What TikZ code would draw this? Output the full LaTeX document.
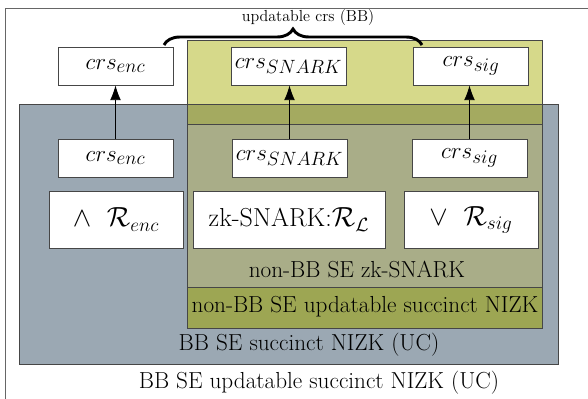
\documentclass[tikz,border=0pt]{standalone}
\usetikzlibrary{decorations.pathreplacing,arrows.meta}
\definecolor{greyfill}{RGB}{155,168,179}
\definecolor{yellowfill}{RGB}{214,217,138}
\definecolor{overlapfill}{RGB}{164,170,96}
\definecolor{snarkfill}{RGB}{169,173,136}
\definecolor{nizkfill}{RGB}{157,166,83}
\definecolor{edgegrey}{RGB}{70,70,70}
\begin{document}
\begin{tikzpicture}[x=0.75pt,y=-0.75pt,
  crsbox/.style={draw=edgegrey,fill=white,line width=0.6pt,inner sep=0pt,
    minimum width=86.25pt,minimum height=28.5pt,font=\fontsize{19}{21}\selectfont},
  relbox/.style={draw=edgegrey,fill=white,line width=0.6pt,inner sep=0pt,
    minimum height=42.75pt,font=\fontsize{19.5}{22}\selectfont},
  region/.style={draw=edgegrey,line width=0.6pt},
  lbl/.style={inner sep=0pt,font=\fontsize{17.4}{20}\selectfont},
  arr/.style={-{Latex[length=11pt,width=8pt]},line width=0.6pt}]
\useasboundingbox (0,0) rectangle (588,399);
% outer frame
\draw[draw=gray!80!black,line width=0.6pt] (5,8) rectangle (620,430);
% grey region
\draw[region,fill=greyfill] (19,104) rectangle (558,364);
% yellow region
\fill[yellowfill] (187,40) rectangle (542.5,104);
\fill[overlapfill] (187,104) rectangle (542.5,124);
\draw[region] (187,124) -- (187,40) -- (542.5,40) -- (542.5,124);
\draw[edgegrey,line width=0.5pt] (187,104) -- (542.5,104);
% zk-SNARK region
\draw[region,fill=snarkfill] (187,124) rectangle (542.5,287);
\draw[region,fill=nizkfill] (187,287) rectangle (542.5,328);
% region labels
\node[lbl] (lsnarkreg) at (357,269) {non-BB SE zk-SNARK};
\node[lbl] (lnizkreg) at (365,307) {non-BB SE updatable succinct NIZK};
\node[lbl] (lbbreg) at (309,345) {BB SE succinct NIZK (UC)};
\node[lbl] (louter) at (319,383) {BB SE updatable succinct NIZK (UC)};
% top crs boxes
\node[crsbox] (tenc) at (115.5,66) {$crs_{enc}$};
\node[crsbox] (tsnark) at (288.5,66) {$crs_{SNARK}$};
\node[crsbox] (tsig) at (471,66) {$crs_{sig}$};
% lower crs boxes
\node[crsbox] (lenc) at (115.5,158) {$crs_{enc}$};
\node[crsbox] (lsnark) at (289.5,158) {$crs_{SNARK}$};
\node[crsbox] (lsig) at (469.5,158) {$crs_{sig}$};
% relation boxes
\node[relbox,minimum width=100.5pt] (renc) at (116,219.5) {$\wedge\ \ \mathcal{R}_{enc}$};
\node[relbox,minimum width=144pt] (rsnark) at (289,219.5) {zk-SNARK:$\mathcal{R}_\mathcal{L}$};
\node[relbox,minimum width=100.5pt] (rsig) at (471,219.5) {$\vee\ \ \mathcal{R}_{sig}$};
% arrows
\draw[arr] (lenc) -- (tenc);
\draw[arr] (lsnark) -- (lsnark|-tsnark.south);
\draw[arr] (lsig) -- (lsig|-tsig.south);
% brace
\coordinate (bl) at (164,45);
\coordinate (br) at (422,45);
\draw[decorate,decoration={brace,amplitude=12pt},line width=2.2pt] (bl) -- (br);
\node[inner sep=0pt,font=\fontsize{12}{14}\selectfont] (blabel) at (308,18) {updatable crs (BB)};
\end{tikzpicture}
\end{document}
